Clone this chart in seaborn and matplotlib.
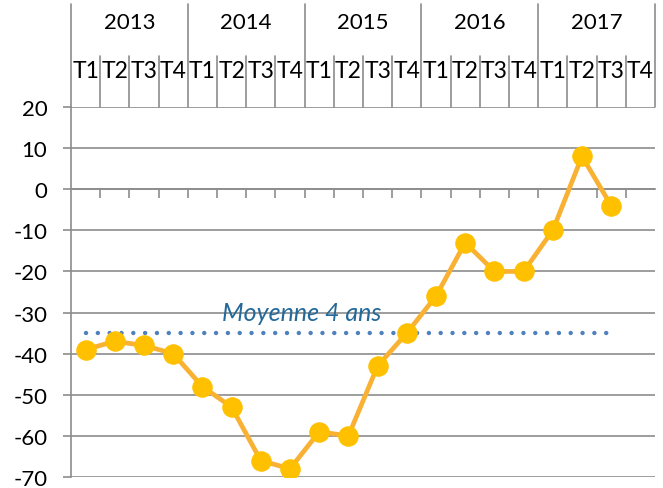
import numpy as np
import pandas as pd
import seaborn as sns
import matplotlib.pyplot as plt

# donnees
annees = ["2013", "2014", "2015", "2016", "2017"]
trimestres = ["T1", "T2", "T3", "T4"]
solde = [-39, -37, -38, -40, -48, -53, -66, -68, -59, -60,
         -43, -35, -26, -13, -20, -20, -10, 8, -4]
moyenne = -35
label_moyenne = "Moyenne 4 ans"

n_cat = len(annees) * len(trimestres)
df = pd.DataFrame({"x": np.arange(len(solde)), "solde": solde})
df_moy = pd.DataFrame({"x": [0, len(solde) - 1], "y": [moyenne, moyenne]})

sns.set_style("white")
plt.rcParams['font.family'] = ['Lato', 'DejaVu Sans']
plt.rcParams['axes.unicode_minus'] = False
plt.rcParams['text.color'] = 'black'
plt.rcParams['ytick.labelcolor'] = 'black'

fig = plt.figure(figsize=(6.63, 4.89), dpi=100)
ax = fig.add_axes([71 / 663, 11 / 489, 584 / 663, 370 / 489])

grid_col = "#8C8C8C"

# moyenne en pointilles
sns.lineplot(data=df_moy, x="x", y="y", ax=ax, color="#4F81BD", lw=3.2,
             dashes=False, zorder=2)
ax.lines[-1].set_dashes((0.01, 2.65))
ax.lines[-1].set_dash_capstyle("round")

# courbe principale
sns.lineplot(data=df, x="x", y="solde", ax=ax, color="#F8B133", lw=3.4,
             marker="o", markersize=14, markerfacecolor="#FFC000",
             markeredgecolor="#FFC000", zorder=3)

ax.text(7.4, -30, label_moyenne, color="#23699A", fontsize=18,
        style="italic", ha="center", va="center")

ax.set_xlim(-0.5, n_cat - 0.5)
ax.set_ylim(-70, 20)
ax.set_yticks(range(-70, 21, 10))
ax.yaxis.grid(True, color=grid_col, lw=1.2)
ax.set_axisbelow(True)
ax.set_xlabel("")
ax.set_ylabel("")
ax.tick_params(axis="y", labelsize=16, length=6, width=1.2, color=grid_col,
               pad=11, left=True, labelcolor="black")

for s in ["top", "right"]:
    ax.spines[s].set_visible(False)
ax.spines["left"].set_color(grid_col)
ax.spines["left"].set_linewidth(1.2)
ax.spines["bottom"].set_position(("data", 0))
ax.spines["bottom"].set_color(grid_col)
ax.spines["bottom"].set_linewidth(1.2)
ax.set_xticks(np.arange(0.5, n_cat - 0.5, 1))
ax.set_xticklabels([])
ax.tick_params(axis="x", length=6.5, width=1.2, color=grid_col, direction="out",
               bottom=True)

# en-tete annees / trimestres
trans = ax.get_xaxis_transform()
y_top, y_q = 1.278, 1.138
for i in range(n_cat + 1):
    b = i - 0.5
    top = y_top if i % 4 == 0 else y_q
    ax.plot([b, b], [1.0, top], transform=trans, color=grid_col, lw=1.2,
            clip_on=False)
for i in range(n_cat):
    ax.text(i, 1.098, trimestres[i % 4], transform=trans, ha="center",
            va="center", fontsize=16.5)
for j, a in enumerate(annees):
    ax.text(j * 4 + 1.5, 1.23, a, transform=trans, ha="center",
            va="center", fontsize=16)

fig.savefig("out.png", dpi=100)
